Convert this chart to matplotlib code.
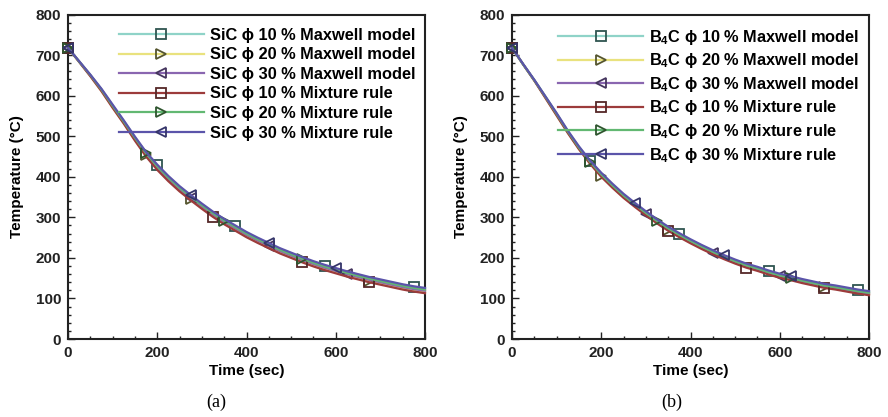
import matplotlib
matplotlib.use("Agg")
import matplotlib.pyplot as plt
from matplotlib.ticker import MultipleLocator

plt.rcParams['font.family'] = ['Liberation Sans', 'DejaVu Sans']
plt.rcParams['mathtext.fontset'] = 'custom'
plt.rcParams['mathtext.rm'] = 'Liberation Sans'
plt.rcParams['mathtext.bf'] = 'Liberation Sans:bold'

# Time grid (s)
time = [0, 25, 50, 75, 100, 125, 150, 175, 200, 225, 250, 275, 300, 325, 350, 375,
        400, 425, 450, 475, 500, 525, 550, 575, 600, 625, 650, 675, 700, 725, 750, 775, 800]

# (a) SiC composites, temperature (°C)
sic_maxwell_10 = [718, 685, 651, 616, 576, 538, 497, 460, 428, 400, 375, 353, 332, 312, 294, 278,
                  262, 248, 235, 222, 211, 200, 190, 181, 173, 165, 158, 151, 145, 139, 133, 128, 124]
sic_maxwell_20 = [718, 684, 649, 612, 572, 533, 492, 453, 421, 393, 368, 346, 325, 305, 287, 271,
                  255, 241, 228, 215, 204, 193, 183, 174, 166, 158, 151, 144, 138, 132, 126, 121, 117]
sic_maxwell_30 = [718, 684, 650, 614, 573, 534, 493, 455, 423, 395, 370, 348, 327, 307, 289, 273,
                  257, 243, 230, 217, 206, 195, 185, 176, 168, 160, 153, 146, 140, 134, 128, 123, 119]
sic_mixture_10 = [718, 683, 648, 611, 570, 531, 489, 450, 417, 389, 364, 342, 321, 301, 283, 267,
                  251, 237, 224, 211, 200, 189, 179, 170, 162, 154, 147, 140, 134, 128, 122, 117, 113]
sic_mixture_20 = [718, 684, 651, 615, 575, 536, 496, 458, 426, 398, 373, 351, 330, 310, 292, 276,
                  260, 246, 233, 220, 209, 198, 188, 179, 171, 163, 156, 149, 143, 137, 131, 126, 122]
sic_mixture_30 = [718, 685, 652, 617, 578, 539, 499, 461, 430, 402, 377, 355, 334, 314, 296, 280,
                  264, 250, 237, 224, 213, 202, 192, 183, 175, 167, 160, 153, 147, 141, 135, 130, 126]

# (b) B4C composites, temperature (°C)
b4c_maxwell_10 = [718, 678, 639, 598, 556, 513, 474, 439, 408, 381, 356, 334, 313, 293, 275, 259,
                  244, 230, 217, 205, 194, 184, 176, 167, 159, 153, 146, 140, 134, 130, 125, 120, 116]
b4c_maxwell_20 = [718, 677, 637, 595, 552, 509, 469, 433, 402, 375, 350, 328, 307, 287, 269, 253,
                  238, 224, 211, 199, 188, 178, 170, 161, 153, 147, 140, 134, 128, 124, 119, 114, 110]
b4c_maxwell_30 = [718, 677, 638, 596, 554, 510, 470, 435, 404, 377, 352, 330, 309, 289, 271, 255,
                  240, 226, 213, 201, 190, 180, 172, 163, 155, 149, 142, 136, 130, 126, 121, 116, 112]
b4c_mixture_10 = [718, 677, 637, 594, 551, 508, 468, 432, 400, 373, 348, 326, 305, 285, 267, 251,
                  236, 222, 209, 197, 186, 176, 168, 159, 151, 145, 138, 132, 126, 122, 117, 112, 108]
b4c_mixture_20 = [718, 677, 638, 597, 555, 512, 472, 437, 406, 379, 354, 332, 311, 291, 273, 257,
                  242, 228, 215, 203, 192, 182, 174, 165, 157, 151, 144, 138, 132, 128, 123, 118, 114]
b4c_mixture_30 = [718, 678, 639, 598, 557, 514, 475, 440, 410, 383, 358, 336, 315, 295, 277, 261,
                  246, 232, 219, 207, 196, 186, 178, 169, 161, 155, 148, 142, 136, 132, 127, 122, 118]

phi_levels = ['10', '20', '30']
models = ['Maxwell model', 'Mixture rule']

line_colors = ['#8fd3c8', '#e9e27e', '#8a66b0', '#9c3b3b', '#62b872', '#5b54aa']
edge_colors = ['#2f5550', '#55552e', '#45355e', '#552828', '#2e552e', '#35356a']
markers = ['s', '>', '<', 's', '>', '<']

# grid indices carrying symbols, per series
marks_a = [[0, 8, 15, 23, 31], [0, 7, 11, 27], [0, 11, 18, 25],
           [0, 13, 21, 27], [0, 7, 14, 21], [0, 11, 18, 24]]
marks_b = [[0, 7, 15, 23, 31], [0, 8, 14, 28], [0, 12, 18, 24],
           [0, 14, 21, 28], [0, 7, 13, 25], [0, 11, 19, 25]]

fig = plt.figure(figsize=(8.88, 4.17), dpi=100)
ax_a = fig.add_axes([0.0766, 0.187, 0.402, 0.778])
ax_b = fig.add_axes([0.5766, 0.187, 0.402, 0.778])

panels = [
    (ax_a, 'SiC', [sic_maxwell_10, sic_maxwell_20, sic_maxwell_30,
                   sic_mixture_10, sic_mixture_20, sic_mixture_30], marks_a, '(a)', 0.244),
    (ax_b, r'B$_\mathbf{4}$C', [b4c_maxwell_10, b4c_maxwell_20, b4c_maxwell_30,
                                b4c_mixture_10, b4c_mixture_20, b4c_mixture_30], marks_b, '(b)', 0.757),
]

for ax, name, series, marks, tag, xc in panels:
    for i, temps in enumerate(series):
        label = f"{name} ϕ {phi_levels[i % 3]} % {models[i // 3]}"
        ax.plot(time, temps, color=line_colors[i], lw=1.6, marker=markers[i],
                markevery=marks[i], ms=6.5, mfc='none', mec=edge_colors[i], mew=1.3,
                clip_on=False, label=label, zorder=3)
    ax.set_xlim(0, 800)
    ax.set_ylim(0, 800)
    ax.xaxis.set_major_locator(MultipleLocator(200))
    ax.xaxis.set_minor_locator(MultipleLocator(50))
    ax.yaxis.set_major_locator(MultipleLocator(100))
    ax.yaxis.set_minor_locator(MultipleLocator(20))
    ax.tick_params(which='both', direction='in', top=False, right=False,
                   labelsize=11, width=1.0, colors='#222222')
    ax.tick_params(which='major', length=5, pad=5)
    ax.tick_params(which='minor', length=2.5)
    for lbl in ax.get_xticklabels() + ax.get_yticklabels():
        lbl.set_fontweight('bold')
    for sp in ax.spines.values():
        sp.set_linewidth(1.5)
        sp.set_color('#222222')
    ax.set_xlabel('Time (sec)', fontsize=11, fontweight='bold', labelpad=3)
    ax.set_ylabel('Temperature (°C)', fontsize=11, fontweight='bold', labelpad=8)
    leg = ax.legend(loc='upper right', bbox_to_anchor=(1.0, 0.99), frameon=False,
                    fontsize=11.8, handlelength=5.2, handletextpad=0.35,
                    labelspacing=0.28, borderaxespad=0.2)
    for t in leg.get_texts():
        t.set_fontweight('bold')
    fig.text(xc, 0.035, tag, family='Liberation Serif', fontsize=13,
             ha='center', va='center')

fig.savefig('out.png', dpi=100)
